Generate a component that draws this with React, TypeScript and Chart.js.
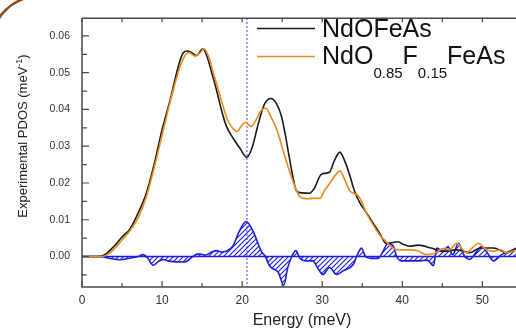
import { useEffect, useRef } from "react";
import { Chart, registerables } from "chart.js";

Chart.register(...registerables);

// Axis ticks
const xTicks = [0, 10, 20, 30, 40, 50];
const yTicks = [0, 0.01, 0.02, 0.03, 0.04, 0.05, 0.06];

// NdOFeAs phonon DOS
const energyPure = [0, 2.2, 3, 4, 5, 6, 7, 8, 9, 10, 11, 12, 12.6, 13.1, 13.6, 14.3, 15.1, 15.6, 16.2, 16.8, 17.4, 18.0, 18.9, 19.7, 20.6, 21.3, 22, 22.8, 23.6, 24.3, 24.9, 25.4, 25.9, 26.4, 26.8, 27.5, 28.4, 29.0, 29.9, 30.9, 31.5, 32.2, 32.8, 33.4, 34.0, 34.7, 35.5, 36.3, 37.2, 38.0, 38.8, 39.5, 40.1, 40.9, 42.0, 43.6, 45.1, 46.8, 48.4, 49.7, 51.4, 53.0, 54.3];
const pdosPure = [0, 0, 0.0007, 0.0028, 0.0053, 0.0075, 0.0118, 0.017, 0.025, 0.0345, 0.0425, 0.0515, 0.0553, 0.0559, 0.0556, 0.0547, 0.0565, 0.0545, 0.05, 0.0453, 0.04, 0.0356, 0.0321, 0.0295, 0.027, 0.03, 0.036, 0.0415, 0.043, 0.0415, 0.0382, 0.033, 0.0268, 0.021, 0.0178, 0.0173, 0.0172, 0.0185, 0.0224, 0.0229, 0.026, 0.0284, 0.026, 0.0224, 0.018, 0.0146, 0.012, 0.0093, 0.0062, 0.0035, 0.0038, 0.004, 0.0033, 0.0028, 0.0031, 0.0023, 0.0014, 0.0018, 0.001, 0.0023, 0.0023, 0.001, 0.0023];

// NdO0.85F0.15FeAs phonon DOS
const energyDoped = [0, 2.4, 3, 4, 5, 6, 7, 8, 9, 10, 11, 12, 12.7, 13.3, 14.2, 14.8, 15.2, 15.8, 16.4, 17, 17.6, 18.2, 18.9, 19.4, 19.9, 20.4, 21.1, 21.7, 22.3, 22.9, 23.6, 24.3, 25.1, 25.9, 26.6, 27.2, 28.0, 28.8, 29.7, 30.3, 30.9, 31.6, 32.2, 32.8, 33.4, 33.9, 34.5, 35.0, 35.5, 36.3, 37.2, 37.9, 38.9, 39.8, 40.9, 42.0, 43.0, 44.0, 45.2, 45.9, 46.8, 47.5, 48.0, 48.8, 49.5, 50.4, 51.4, 52.3, 53.0, 54.3];
const pdosDoped = [0, 0, 0.0003, 0.002, 0.0045, 0.007, 0.0105, 0.016, 0.024, 0.033, 0.042, 0.05, 0.054, 0.0555, 0.0545, 0.0555, 0.0565, 0.0545, 0.05, 0.0455, 0.041, 0.037, 0.0347, 0.034, 0.0355, 0.0365, 0.0354, 0.037, 0.0395, 0.0404, 0.038, 0.0347, 0.029, 0.0233, 0.019, 0.0163, 0.0157, 0.0158, 0.0158, 0.018, 0.0198, 0.022, 0.0233, 0.021, 0.018, 0.0172, 0.0165, 0.0145, 0.0119, 0.0088, 0.0058, 0.0042, 0.0022, 0.0018, 0.0018, 0.0015, 0.0005, 0.0008, 0.0022, 0.0018, 0.0036, 0.002, 0.001, 0.0025, 0.0036, 0.002, 0.0014, 0.0018, 0.001, 0.0018];

// Difference between the two spectra
const energyDiff = [0, 2.2, 3.4, 4.7, 5.9, 7.0, 7.6, 8.2, 8.9, 9.5, 10.1, 10.8, 11.4, 12.2, 13.0, 13.6, 14.5, 15.5, 16.2, 16.8, 17.4, 18.0, 18.8, 19.7, 20.5, 21.4, 22.4, 22.9, 23.4, 24.0, 24.5, 25.2, 25.7, 26.2, 26.7, 27.2, 28.0, 28.8, 29.5, 30.1, 30.9, 31.8, 32.6, 33.9, 34.3, 34.9, 35.4, 36.1, 37.0, 37.6, 38.2, 38.9, 39.3, 39.9, 40.9, 42.2, 43.1, 43.9, 44.3, 45.1, 45.7, 46.3, 47.0, 47.8, 48.4, 49.3, 49.9, 50.5, 51.4, 52.4, 53.4, 54.3];
const pdosDiff = [0, 0, -0.0005, -0.0009, -0.0005, 0, 0.0005, -0.0004, -0.0024, -0.0014, -0.0008, -0.0012, -0.0014, -0.0015, -0.0014, -0.0004, 0.0007, 0.0004, 0.0012, 0.0016, 0.0012, 0.0014, 0.0027, 0.0071, 0.0095, 0.0067, 0.0014, 0, -0.0025, -0.0035, -0.0043, -0.0078, -0.003, 0, 0.0016, -0.0004, -0.0012, -0.0012, -0.0034, -0.0049, -0.003, -0.0049, -0.0039, -0.0021, 0, 0.0023, 0, -0.0005, -0.0005, 0.0014, 0.0036, 0.0027, 0, -0.0012, -0.0012, -0.0012, -0.001, -0.0025, 0.0023, 0.0014, 0.0027, 0.0005, 0.0036, 0, -0.0008, 0.0014, 0.0027, 0.0014, -0.0012, 0.0005, 0.0014, 0.0023];

// Energy of the dotted marker line
const markerEnergy = 20.6;

const X_MIN = 0;
const X_MAX = 54.2;
const Y_MIN = -0.0083;
const Y_MAX = 0.0648;

const FONT = "'Liberation Sans', Arial, sans-serif";
const BLUE = "#1c1ce0";
const ORANGE = "#ec8a1c";
const BLACK = "#1a1a1a";
const AXIS = "#4a4a4a";

const toPoints = (xs: number[], ys: number[]) => xs.map((x, i) => ({ x, y: ys[i] }));

function hatchPattern(ctx: CanvasRenderingContext2D, color: string) {
  const size = 5;
  const c = document.createElement("canvas");
  c.width = size;
  c.height = size;
  const g = c.getContext("2d")!;
  g.strokeStyle = color;
  g.lineWidth = 1.1;
  g.beginPath();
  g.moveTo(-1, size + 1);
  g.lineTo(size + 1, -1);
  g.moveTo(-1, 1);
  g.lineTo(1, -1);
  g.moveTo(size - 1, size + 1);
  g.lineTo(size + 1, size - 1);
  g.stroke();
  return ctx.createPattern(c, "repeat");
}

const decorations = {
  id: "decorations",
  beforeDatasetsDraw(chart: any) {
    const { ctx, chartArea, scales } = chart;
    const x = scales.x.getPixelForValue(markerEnergy);
    ctx.save();
    ctx.strokeStyle = "#4848e6";
    ctx.lineWidth = 1.4;
    ctx.setLineDash([1.4, 2.6]);
    ctx.beginPath();
    ctx.moveTo(x, chartArea.top);
    ctx.lineTo(x, chartArea.bottom);
    ctx.stroke();
    ctx.restore();
  },
  afterDraw(chart: any) {
    const { ctx, chartArea, scales } = chart;
    const { left, right, top, bottom } = chartArea;
    ctx.save();

    // frame
    ctx.strokeStyle = AXIS;
    ctx.lineWidth = 1.5;
    ctx.beginPath();
    ctx.moveTo(left, top);
    ctx.lineTo(right + 2, top);
    ctx.moveTo(left, top);
    ctx.lineTo(left, bottom);
    ctx.lineTo(right + 2, bottom);
    ctx.stroke();

    // inward ticks
    ctx.lineWidth = 1.2;
    ctx.beginPath();
    for (let v = 0; v <= X_MAX; v += 5) {
      const px = scales.x.getPixelForValue(v);
      const len = v % 10 === 0 ? 6 : 4;
      ctx.moveTo(px, bottom);
      ctx.lineTo(px, bottom - len);
      ctx.moveTo(px, top);
      ctx.lineTo(px, top + 4);
    }
    for (let k = -1; k <= 12; k++) {
      const v = k * 0.005;
      if (v < Y_MIN || v > Y_MAX) continue;
      const py = scales.y.getPixelForValue(v);
      const len = k % 2 === 0 ? 7 : 5;
      ctx.moveTo(left, py);
      ctx.lineTo(left + len, py);
    }
    ctx.stroke();

    // x axis title
    ctx.fillStyle = "#222";
    ctx.font = `16px ${FONT}`;
    ctx.textAlign = "center";
    ctx.textBaseline = "alphabetic";
    ctx.fillText("Energy (meV)", 302, 325);

    // y axis title with superscript
    ctx.save();
    ctx.translate(27, 136);
    ctx.rotate(-Math.PI / 2);
    ctx.textAlign = "left";
    const main = "Experimental PDOS (meV";
    const sup = "-1";
    const close = ")";
    ctx.font = `13px ${FONT}`;
    const wMain = ctx.measureText(main).width;
    const wClose = ctx.measureText(close).width;
    ctx.font = `9px ${FONT}`;
    const wSup = ctx.measureText(sup).width;
    let cx = -(wMain + wSup + wClose) / 2;
    ctx.font = `13px ${FONT}`;
    ctx.fillText(main, cx, 0);
    cx += wMain;
    ctx.font = `9px ${FONT}`;
    ctx.fillText(sup, cx, -5);
    cx += wSup;
    ctx.font = `13px ${FONT}`;
    ctx.fillText(close, cx, 0);
    ctx.restore();

    // legend
    ctx.lineWidth = 1.6;
    ctx.strokeStyle = BLACK;
    ctx.beginPath();
    ctx.moveTo(257, 28.5);
    ctx.lineTo(315, 28.5);
    ctx.stroke();
    ctx.strokeStyle = ORANGE;
    ctx.beginPath();
    ctx.moveTo(257, 56.5);
    ctx.lineTo(315, 56.5);
    ctx.stroke();

    ctx.fillStyle = "#111";
    ctx.textAlign = "left";
    ctx.font = `25px ${FONT}`;
    ctx.fillText("NdOFeAs", 322, 37);

    const parts: [string, boolean][] = [
      ["NdO", false],
      ["0.85", true],
      ["F", false],
      ["0.15", true],
      ["FeAs", false],
    ];
    let lx = 322;
    for (const [txt, sub] of parts) {
      ctx.font = sub ? `15px ${FONT}` : `25px ${FONT}`;
      ctx.fillText(txt, lx, sub ? 78 : 64);
      lx += ctx.measureText(txt).width;
    }

    // corner arc
    ctx.strokeStyle = "#8c4a1e";
    ctx.lineWidth = 2.5;
    ctx.beginPath();
    ctx.arc(40, 45, 49, Math.PI * 1.06, Math.PI * 1.39);
    ctx.stroke();

    ctx.restore();
  },
};

export default function App() {
  const canvasRef = useRef<HTMLCanvasElement | null>(null);

  useEffect(() => {
    const canvas = canvasRef.current;
    if (!canvas) return;
    const ctx = canvas.getContext("2d")!;
    const pattern = hatchPattern(ctx, BLUE);

    const chart = new Chart(ctx, {
      type: "line",
      data: {
        datasets: [
          {
            label: "NdO0.85F0.15FeAs",
            data: toPoints(energyDoped, pdosDoped),
            borderColor: ORANGE,
            borderWidth: 1.6,
            pointRadius: 0,
            fill: false,
            tension: 0.4,
            cubicInterpolationMode: "monotone",
          },
          {
            label: "NdOFeAs",
            data: toPoints(energyPure, pdosPure),
            borderColor: BLACK,
            borderWidth: 1.6,
            pointRadius: 0,
            fill: false,
            tension: 0.4,
            cubicInterpolationMode: "monotone",
          },
          {
            label: "baseline",
            data: [
              { x: X_MIN, y: 0 },
              { x: X_MAX + 1, y: 0 },
            ],
            borderColor: BLUE,
            borderWidth: 1.6,
            pointRadius: 0,
            fill: false,
          },
          {
            label: "difference",
            data: toPoints(energyDiff, pdosDiff),
            borderColor: BLUE,
            borderWidth: 1.6,
            backgroundColor: pattern as any,
            pointRadius: 0,
            fill: { value: 0 },
            tension: 0.4,
            cubicInterpolationMode: "monotone",
          },
        ],
      },
      options: {
        animation: false,
        responsive: false,
        maintainAspectRatio: false,
        layout: { padding: { top: 9, right: 0, left: 0, bottom: 0 } },
        plugins: {
          legend: { display: false },
          tooltip: { enabled: false },
        },
        scales: {
          x: {
            type: "linear",
            min: X_MIN,
            max: X_MAX,
            grid: { display: false, drawTicks: false },
            border: { display: false },
            afterBuildTicks: (s: any) => {
              s.ticks = xTicks.map((v) => ({ value: v }));
            },
            afterFit: (s: any) => {
              s.height = 43;
            },
            ticks: {
              color: "#333",
              padding: 6,
              maxRotation: 0,
              font: { family: FONT, size: 12 },
              callback: (v: any) => String(v),
            },
          },
          y: {
            type: "linear",
            min: Y_MIN,
            max: Y_MAX,
            grid: { display: false, drawTicks: false },
            border: { display: false },
            afterBuildTicks: (s: any) => {
              s.ticks = yTicks.map((v) => ({ value: v }));
            },
            afterFit: (s: any) => {
              s.width = 82;
            },
            ticks: {
              color: "#333",
              padding: 12,
              font: { family: FONT, size: 10.5 },
              callback: (v: any) => Number(v).toFixed(2),
            },
          },
        },
      },
      plugins: [decorations],
    });

    return () => chart.destroy();
  }, []);

  return (
    <div style={{ position: "fixed", left: 0, top: 0, width: 516, height: 330, background: "#fff" }}>
      <canvas ref={canvasRef} width={516} height={330} style={{ width: 516, height: 330 }} />
    </div>
  );
}
